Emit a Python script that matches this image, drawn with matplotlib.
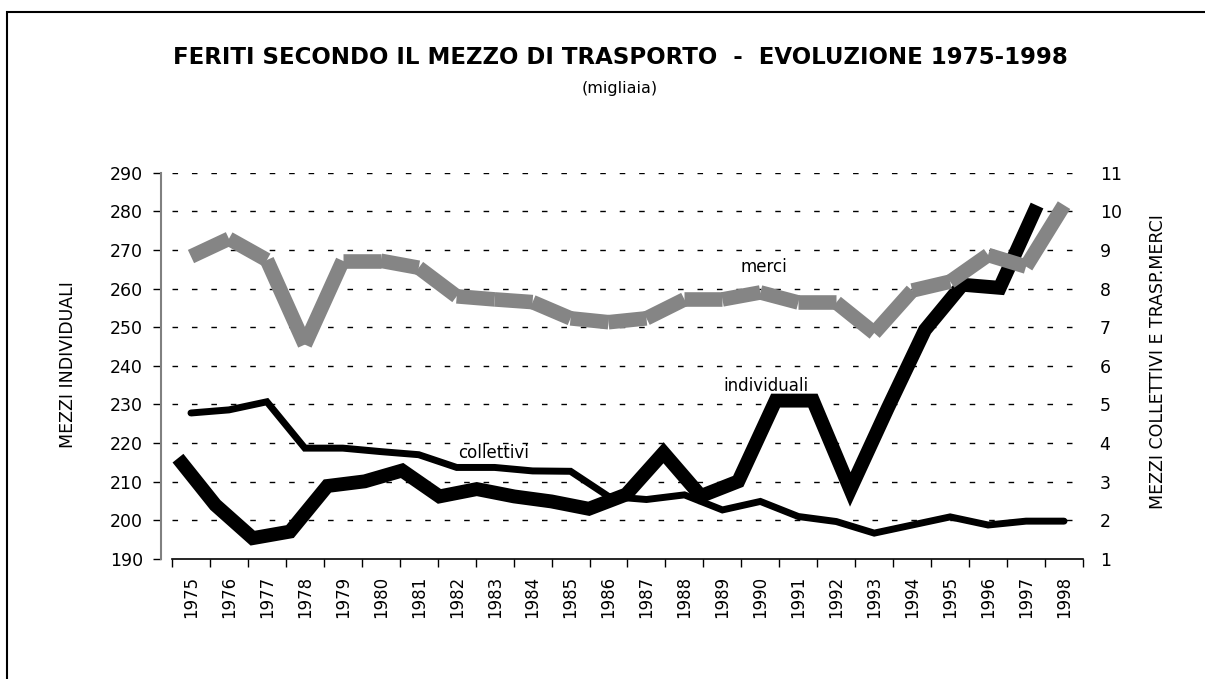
import matplotlib
matplotlib.use("Agg")
import matplotlib.pyplot as plt
from matplotlib.collections import LineCollection
from matplotlib.patches import Rectangle
import numpy as np

# dati (migliaia)
anni = list(range(1975, 1999))
individuali = [216.1, 204.0, 195.4, 197.1, 208.9, 210.1, 212.9, 206.2, 208.1, 206.2,
               204.9, 203.0, 206.7, 217.5, 206.3, 210.1, 231.0, 231.0, 208.0, 229.0,
               249.3, 261.0, 260.2, 281.5]
collettivi = [4.78, 4.86, 5.07, 3.87, 3.87, 3.78, 3.70, 3.37, 3.37, 3.28,
              3.27, 2.62, 2.54, 2.66, 2.27, 2.49, 2.10, 1.97, 1.67, 1.88,
              2.09, 1.88, 1.98, 1.98]
merci = [8.83, 9.29, 8.74, 6.55, 8.72, 8.72, 8.54, 7.80, 7.72, 7.65,
         7.23, 7.13, 7.23, 7.72, 7.72, 7.90, 7.64, 7.64, 6.85, 7.95,
         8.18, 8.87, 8.57, 10.16]

W, H = 1205, 679
fig = plt.figure(figsize=(W / 100, H / 100), dpi=100)
plt.rcParams['font.family'] = 'DejaVu Sans'

# cornice del grafico
fig.patches.append(Rectangle((7 / W, -0.05), 1.1, 1 - 12 / H + 0.05, transform=fig.transFigure,
                             fill=False, edgecolor='black', linewidth=1.5))

pos = [172 / W, 1 - 559 / H, 911 / W, (559 - 172.7) / H]
ax = fig.add_axes(pos)
x = np.arange(len(anni))

ax.set_xlim(-0.5, len(anni) - 0.5)
ax.set_ylim(190, 290)
ax.set_yticks(range(190, 291, 10))
ax.set_xticks(np.arange(-0.5, len(anni), 1))
ax.set_xticklabels([])
ax.set_xticks(x, minor=True)
ax.set_xticklabels([str(a) for a in anni], minor=True, rotation=90, fontsize=12)
ax.tick_params(axis='x', which='major', length=6, width=1, direction='out')
ax.tick_params(axis='x', which='minor', length=0, pad=12)
ax.tick_params(axis='y', labelsize=12.5, length=6, width=1, pad=7)
for s in ['top', 'right']:
    ax.spines[s].set_visible(False)
ax.spines['left'].set_color('#808080')
ax.spines['left'].set_linewidth(1.5)
ax.spines['left'].set_position(('outward', 8))
ax.spines['bottom'].set_linewidth(1.2)
for yv in range(200, 291, 10):
    ax.axhline(yv, color='black', linewidth=1, linestyle=(0, (4, 10)), zorder=0)

# serie individuali su asse categorie secondario
ax_ind = fig.add_axes(pos, sharey=ax)
ax_ind.set_xlim(-0.16, 24.23)
ax_ind.axis('off')
ax_ind.patch.set_visible(False)
ax_ind.plot(np.arange(len(individuali)), individuali, color='black', linewidth=10,
            solid_joinstyle='miter', solid_capstyle='butt')
ax_ind.text(15.75, 232.5, 'individuali', fontsize=12, ha='center', va='bottom')

ax2 = ax.twinx()
ax2.set_ylim(1, 11)
ax2.set_yticks(range(1, 12))
ax2.tick_params(axis='y', labelsize=12.5, length=0, pad=12)
for s in ['top', 'right', 'left', 'bottom']:
    ax2.spines[s].set_visible(False)

ax2.plot(x, collettivi, color='black', linewidth=5, solid_joinstyle='miter',
         solid_capstyle='round')
segs = [[(x[i], merci[i]), (x[i + 1], merci[i + 1])] for i in range(len(x) - 1)]
lc = LineCollection(segs, colors='#858585', linewidths=10.5, capstyle='butt', joinstyle='miter')
ax2.add_collection(lc)

ax2.text(15.1, 8.56, 'merci', fontsize=12, ha='center', va='center')
ax2.text(7.98, 3.75, 'collettivi', fontsize=12, ha='center', va='center')

fig.text(620 / W, 1 - 57 / H, 'FERITI SECONDO IL MEZZO DI TRASPORTO  -  EVOLUZIONE 1975-1998',
         fontsize=16.5, fontweight='bold', ha='center', va='center')
fig.text(620 / W, 1 - 88 / H, '(migliaia)', fontsize=11.5, ha='center', va='center')
fig.text(68 / W, 1 - 365 / H, 'MEZZI INDIVIDUALI', fontsize=12.5, rotation=90,
         ha='center', va='center')
fig.text(1158 / W, 1 - 362 / H, 'MEZZI COLLETTIVI E TRASP.MERCI', fontsize=12.5, rotation=90,
         ha='center', va='center')

fig.savefig('out.png', dpi=100)
